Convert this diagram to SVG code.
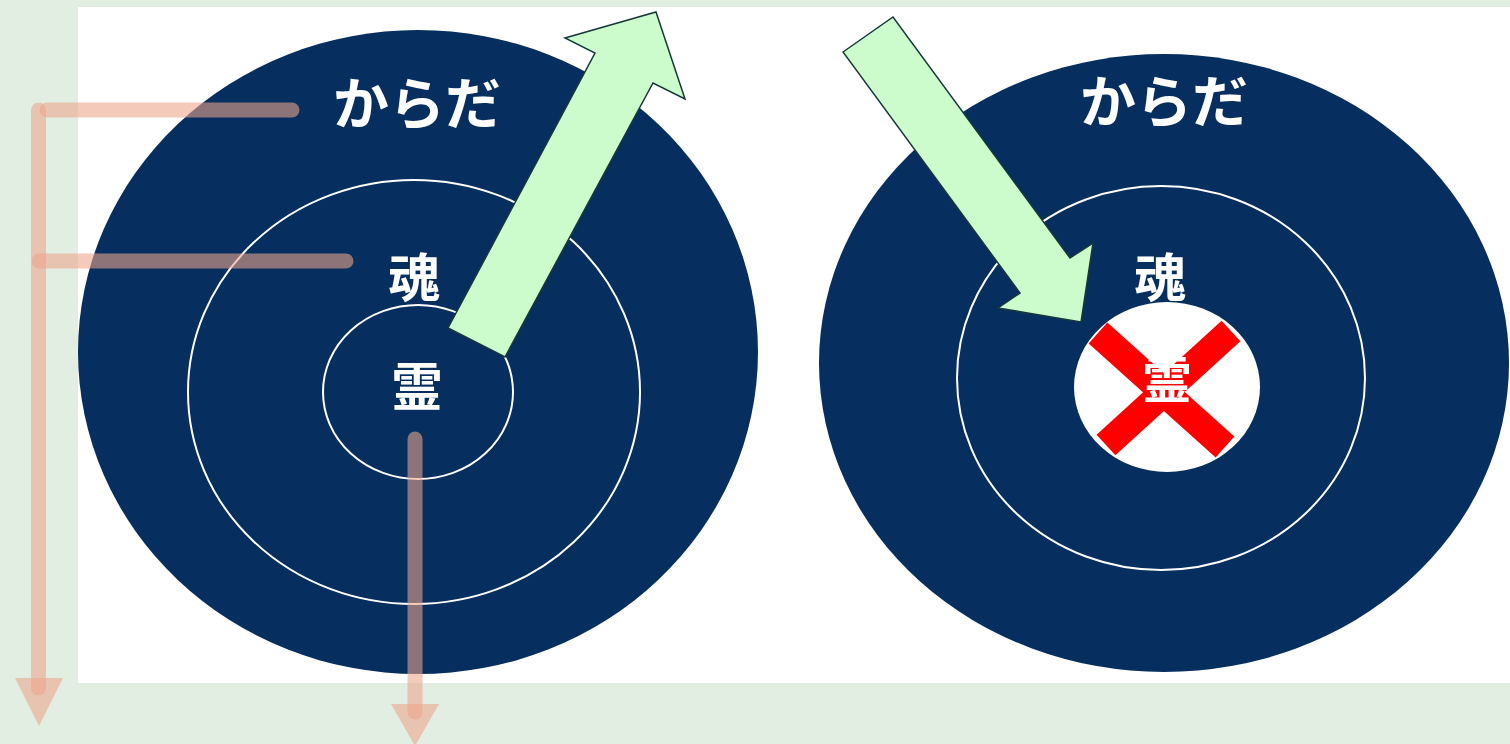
<svg xmlns="http://www.w3.org/2000/svg" width="1510" height="744" viewBox="0 0 1510 744">
<style>
.navy{fill:#062e5e}
.ring{fill:none;stroke:#ffffff;stroke-width:2}
.lbl{fill:#ffffff;font-family:"Noto Sans CJK JP","Noto Sans CJK SC",sans-serif;font-weight:bold;text-anchor:middle}
.garrow{fill:#ccfccc;stroke:#17383a;stroke-width:1.5;stroke-linejoin:miter}
.conn{stroke:rgb(237,165,140);stroke-opacity:0.59;stroke-width:15;stroke-linecap:round;fill:none}
.head{fill:rgb(237,165,140);fill-opacity:0.59}
</style>
<rect x="0" y="0" width="1510" height="744" fill="#e3eee2"/>
<rect x="78" y="7" width="1432" height="676" fill="#ffffff"/>
<g id="left-body">
<ellipse class="navy" cx="418" cy="352" rx="340" ry="322"/>
<ellipse class="ring" cx="414" cy="392" rx="226" ry="212"/>
<ellipse class="ring" cx="418" cy="392" rx="95" ry="87"/>
<text class="lbl" x="417" y="124" font-size="56">からだ</text>
<text class="lbl" x="414" y="297" font-size="52">魂</text>
<text class="lbl" x="417" y="406" font-size="52">霊</text>
</g>
<g id="right-body">
<ellipse class="navy" cx="1164" cy="363" rx="345" ry="309"/>
<ellipse class="ring" cx="1161" cy="378" rx="204" ry="192"/>
<ellipse cx="1167" cy="387" rx="93" ry="85" fill="#ffffff"/>
<line x1="1098" y1="333" x2="1225" y2="447" stroke="#ff0000" stroke-width="28"/>
<line x1="1231" y1="331" x2="1106" y2="445" stroke="#ff0000" stroke-width="28"/>
<text class="lbl" x="1164" y="122" font-size="56">からだ</text>
<text class="lbl" x="1160" y="297" font-size="52">魂</text>
<text class="lbl" x="1167" y="398" font-size="50">霊</text>
</g>
<g id="arrow-out">
<polygon class="garrow" points="448,328 505,357 653,83 685,99 656,12 565,38 595,53"/>
</g>
<g id="arrow-in">
<polygon class="garrow" points="843,52 893,17 1070,258 1093,243 1081,322 998,308 1020,293"/>
</g>
<g id="connectors">
<line class="conn" x1="47" y1="110" x2="292" y2="110"/>
<line class="conn" x1="38.5" y1="110" x2="38.5" y2="688"/>
<polygon class="head" points="15,678 63,678 39,726"/>
<line class="conn" x1="39" y1="261" x2="346" y2="261"/>
<line class="conn" x1="415" y1="439" x2="415" y2="712"/>
<polygon class="head" points="391,704 439,704 415,746"/>
</g>
</svg>
